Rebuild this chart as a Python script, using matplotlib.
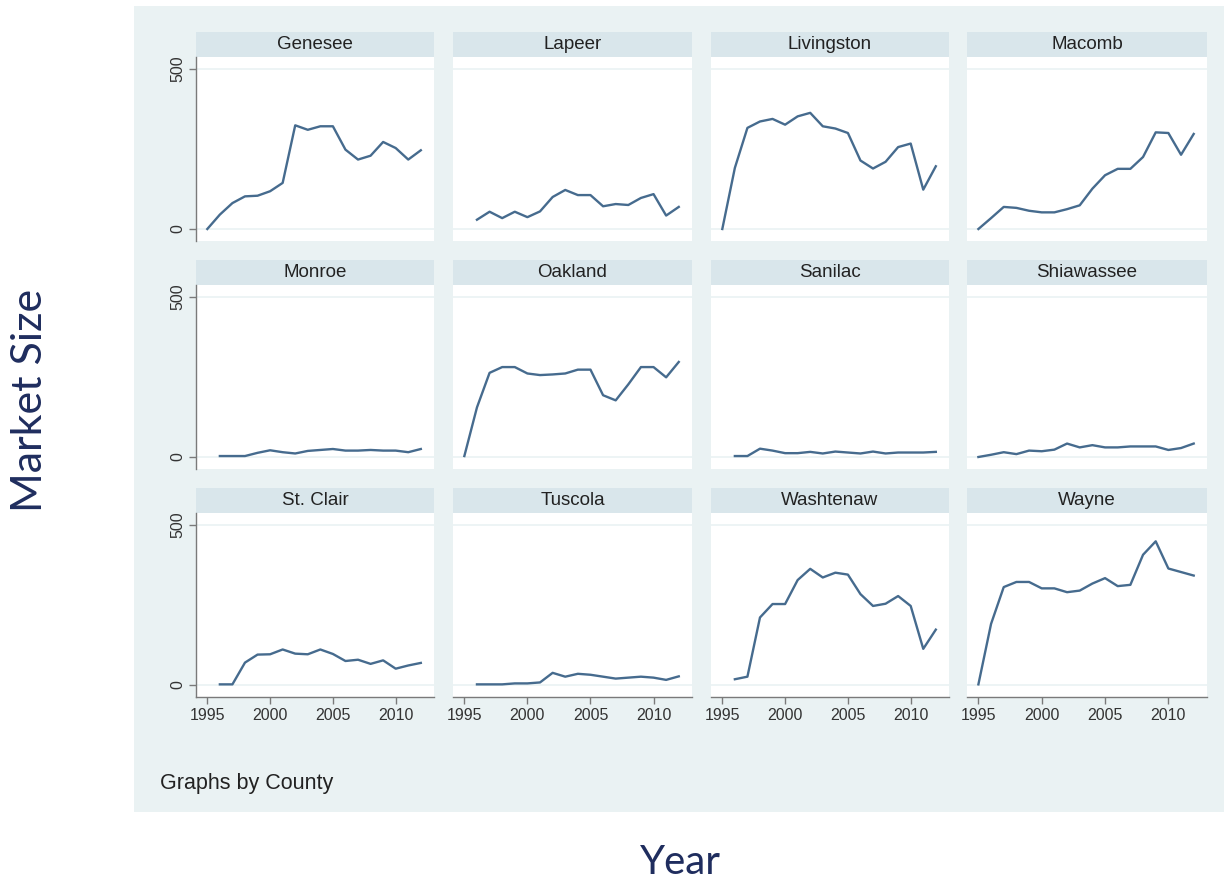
import matplotlib.pyplot as plt

years_full = list(range(1995, 2013))
years_late = list(range(1996, 2013))

counties = ["Genesee", "Lapeer", "Livingston", "Macomb",
            "Monroe", "Oakland", "Sanilac", "Shiawassee",
            "St. Clair", "Tuscola", "Washtenaw", "Wayne"]

genesee = [0, 45, 81, 102, 104, 118, 144, 324, 310, 321, 321, 248, 217, 229, 272, 253, 217, 246]
lapeer = [29, 54, 34, 54, 37, 55, 100, 122, 106, 106, 71, 78, 75, 97, 109, 42, 69]
livingston = [0, 191, 316, 336, 344, 326, 352, 363, 321, 314, 300, 214, 189, 210, 256, 267, 123, 196]
macomb = [0, 34, 69, 66, 57, 52, 52, 62, 74, 126, 168, 188, 188, 225, 302, 300, 232, 297]
monroe = [3, 3, 3, 13, 21, 15, 11, 19, 22, 25, 20, 20, 22, 20, 20, 15, 25]
oakland = [3, 155, 263, 281, 281, 261, 256, 258, 261, 273, 273, 193, 177, 227, 281, 281, 249, 297]
sanilac = [3, 3, 26, 20, 12, 12, 16, 11, 17, 14, 11, 17, 11, 14, 14, 14, 16]
shiawassee = [0, 7, 15, 9, 20, 18, 23, 42, 30, 37, 30, 30, 33, 33, 33, 22, 28, 42]
st_clair = [2, 2, 70, 95, 96, 111, 98, 96, 111, 97, 75, 79, 66, 77, 51, 61, 69]
tuscola = [2, 2, 2, 5, 5, 8, 38, 26, 35, 32, 26, 20, 23, 26, 23, 16, 27]
washtenaw = [18, 26, 211, 253, 253, 328, 363, 336, 351, 345, 284, 247, 254, 278, 247, 113, 173]
wayne = [2, 191, 306, 322, 322, 302, 302, 290, 295, 317, 334, 309, 313, 407, 449, 364, 353, 342]

series = [genesee, lapeer, livingston, macomb,
          monroe, oakland, sanilac, shiawassee,
          st_clair, tuscola, washtenaw, wayne]

W, H = 1224, 886
BG = "#eaf2f3"
STRIP = "#d9e6eb"
LINE = "#466b8e"
NAVY = "#1f2d5e"

fig = plt.figure(figsize=(W / 100, H / 100), dpi=100)
fig.patch.set_facecolor("white")

col_x = [(196, 434), (453, 692), (711, 949), (967, 1207)]
row_y = [57, 285, 513]
plot_h = 184
strip_h = 25


def px_rect(x0, x1, top, bottom):
    return [x0 / W, 1 - bottom / H, (x1 - x0) / W, (bottom - top) / H]


def blank(a):
    a.set_xticks([])
    a.set_yticks([])
    for s in a.spines.values():
        s.set_visible(False)


# graph region background
bg = fig.add_axes(px_rect(134, W, 6, 812), zorder=-1)
bg.set_facecolor(BG)
blank(bg)

for i, (name, vals) in enumerate(zip(counties, series)):
    r, c = divmod(i, 4)
    x0, x1 = col_x[c]
    top = row_y[r]

    sax = fig.add_axes(px_rect(x0, x1, top - strip_h, top))
    sax.set_facecolor(STRIP)
    blank(sax)
    sax.text(0.5, 0.5, name, ha="center", va="center", fontsize=13.5,
             color="#222222", family="Liberation Sans", transform=sax.transAxes)

    ax = fig.add_axes(px_rect(x0, x1, top, top + plot_h))
    ax.set_facecolor("white")
    xs = years_full if len(vals) == 18 else years_late
    for g in (0, 500):
        ax.axhline(g, color=BG, lw=1.2, zorder=1)
    ax.plot(xs, vals, color=LINE, lw=1.7, zorder=3)
    ax.set_xlim(1994.1, 2013.05)
    ax.set_ylim(-37.5, 537.5)

    for s in ("top", "right"):
        ax.spines[s].set_visible(False)
    ax.spines["left"].set_visible(c == 0)
    ax.spines["bottom"].set_visible(r == 2)
    for s in ("left", "bottom"):
        ax.spines[s].set_color("#7a7a7a")
        ax.spines[s].set_linewidth(1.0)

    if c == 0:
        ax.set_yticks([0, 500])
        ax.set_yticklabels(["0", "500"], rotation=90, va="center",
                           family="Liberation Sans", fontsize=11.5, color="#333333")
        ax.tick_params(axis="y", length=5, width=1, color="#7a7a7a", pad=3)
    else:
        ax.set_yticks([])
    if r == 2:
        ax.set_xticks([1995, 2000, 2005, 2010])
        ax.set_xticklabels(["1995", "2000", "2005", "2010"],
                           family="Liberation Sans", fontsize=11.5, color="#333333")
        ax.tick_params(axis="x", length=5, width=1, color="#7a7a7a", pad=3)
    else:
        ax.set_xticks([])

fig.text(160 / W, 1 - 783 / H, "Graphs by County", ha="left", va="center",
         fontsize=15.5, color="#222222", family="Liberation Sans")
fig.text(30 / W, 1 - 400 / H, "Market Size", ha="center", va="center",
         rotation=90, fontsize=31, color=NAVY, family="Lato")
fig.text(680 / W, 1 - 862 / H, "Year", ha="center", va="center",
         fontsize=29, color=NAVY, family="Lato")

fig.savefig("out.png", dpi=100, facecolor="white")
